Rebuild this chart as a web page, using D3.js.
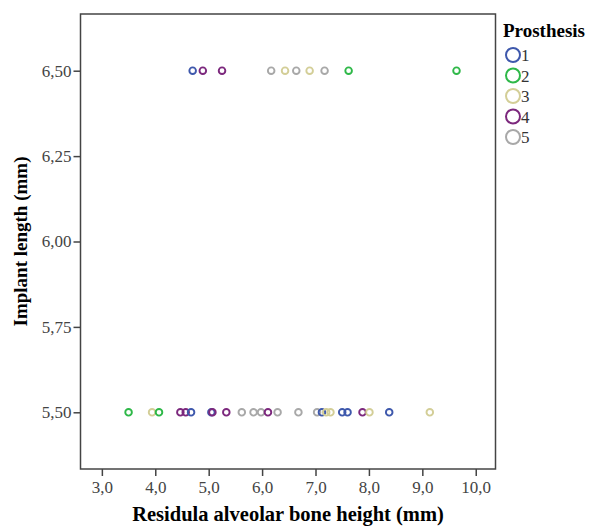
<!DOCTYPE html>
<html>
<head>
<meta charset="utf-8">
<script src="https://cdn.jsdelivr.net/npm/d3@7"></script>
<style>
  body { margin: 0; background: #fff; }
  text { font-family: "Liberation Serif", "Times New Roman", serif; }
</style>
</head>
<body>
<svg id="chart" width="589" height="527"></svg>
<script>
// data: bone height (mm), implant length (mm), prosthesis
var boneHeight = [4.70, 4.89, 5.25, 6.17, 6.43, 6.64, 6.89, 7.17, 7.62, 9.64,
  3.50, 3.94, 4.07, 4.47, 4.57, 4.67, 5.05, 5.07, 5.33, 5.62, 5.84, 5.98, 6.11, 6.29, 6.68,
  7.03, 7.12, 7.20, 7.28, 7.50, 7.60, 7.88, 8.01, 8.38, 9.14];
var implantLength = [6.5, 6.5, 6.5, 6.5, 6.5, 6.5, 6.5, 6.5, 6.5, 6.5,
  5.5, 5.5, 5.5, 5.5, 5.5, 5.5, 5.5, 5.5, 5.5, 5.5, 5.5, 5.5, 5.5, 5.5, 5.5,
  5.5, 5.5, 5.5, 5.5, 5.5, 5.5, 5.5, 5.5, 5.5, 5.5];
var prosthesis = [1, 4, 4, 5, 3, 5, 3, 5, 2, 2,
  2, 3, 2, 4, 4, 1, 1, 4, 4, 5, 5, 5, 4, 5, 5,
  5, 1, 3, 3, 1, 1, 4, 3, 1, 3];
var groups = [1, 2, 3, 4, 5];
var groupColors = ["#3e58ac", "#2eb848", "#d3ce97", "#7c287d", "#a8a8a8"];
var xTicks = [3, 4, 5, 6, 7, 8, 9, 10];
var yTicks = [5.5, 5.75, 6.0, 6.25, 6.5];

function drawChart() {
  var svg = d3.select("#chart");
  var left = 80.5, right = 495.5, top = 14, bottom = 469;

  var x = d3.scaleLinear().domain([2.6, 10.37]).range([left, right]);
  var y = d3.scaleLinear().domain([5.334, 6.666]).range([bottom, top]);
  var color = d3.scaleOrdinal().domain(groups).range(groupColors);
  var comma = function(f) { return function(d) { return d3.format(f)(d).replace(".", ","); }; };

  // axes
  var xAxis = svg.append("g")
      .attr("transform", "translate(0," + bottom + ")")
      .call(d3.axisBottom(x).tickValues(xTicks).tickFormat(comma(".1f")).tickSize(7).tickPadding(5));
  var yAxis = svg.append("g")
      .attr("transform", "translate(" + left + ",0)")
      .call(d3.axisLeft(y).tickValues(yTicks).tickFormat(comma(".2f")).tickSize(7).tickPadding(2));
  [xAxis, yAxis].forEach(function(a) {
    a.select(".domain").remove();
    a.selectAll(".tick line").attr("stroke", "#444").attr("stroke-width", 1.5);
    a.selectAll(".tick text").attr("fill", "#444").style("font-size", "17px")
      .style("font-family", "'Liberation Serif', serif");
  });

  // frame
  svg.append("rect")
      .attr("x", left).attr("y", top)
      .attr("width", right - left).attr("height", bottom - top)
      .attr("fill", "none").attr("stroke", "#444").attr("stroke-width", 1.5);

  // points
  svg.append("g").selectAll("circle")
    .data(boneHeight.map(function(d, i) { return {x: d, y: implantLength[i], g: prosthesis[i]}; }))
    .enter().append("circle")
      .attr("cx", function(d) { return x(d.x); })
      .attr("cy", function(d) { return y(d.y); })
      .attr("r", 3.3)
      .attr("fill", "none")
      .attr("stroke", function(d) { return color(d.g); })
      .attr("stroke-width", 1.9);

  // axis titles
  svg.append("text")
      .attr("x", (left + right) / 2).attr("y", 521)
      .attr("text-anchor", "middle")
      .style("font-size", "20.5px").style("font-weight", "bold")
      .text("Residula alveolar bone height (mm)");
  svg.append("text")
      .attr("transform", "translate(27," + ((top + bottom) / 2) + ") rotate(-90)")
      .attr("text-anchor", "middle")
      .style("font-size", "19px").style("font-weight", "bold")
      .text("Implant length (mm)");

  // legend
  var legend = svg.append("g").attr("transform", "translate(503,0)");
  legend.append("text")
      .attr("x", 0).attr("y", 37)
      .style("font-size", "19px").style("font-weight", "bold")
      .text("Prosthesis");
  var item = legend.selectAll(".item")
    .data(groups)
    .enter().append("g")
      .attr("class", "item")
      .attr("transform", function(d, i) { return "translate(10," + (55 + i * 20.5) + ")"; });
  item.append("circle")
      .attr("r", 7)
      .attr("fill", "none")
      .attr("stroke", function(d) { return color(d); })
      .attr("stroke-width", 2);
  item.append("text")
      .attr("x", 8).attr("y", 6)
      .style("font-size", "17px")
      .attr("fill", "#333")
      .text(function(d) { return d; });
}

drawChart();
</script>
</body>
</html>
